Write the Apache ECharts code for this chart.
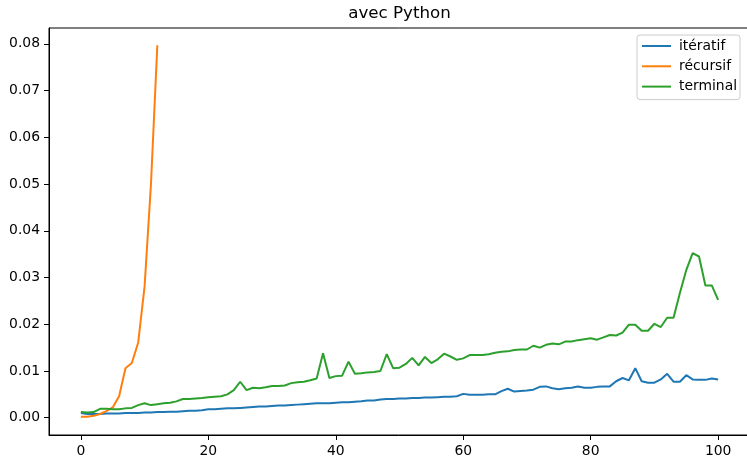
<!DOCTYPE html>
<html>
<head>
<meta charset="utf-8">
<script src="https://cdn.jsdelivr.net/npm/echarts@6/dist/echarts.min.js"></script>
<style>
  html, body { margin: 0; padding: 0; background: #fff; }
  #chart { width: 747px; height: 457px; }
</style>
</head>
<body>
<div id="chart"></div>
<script>
// durée de calcul (s) en fonction de n
const seriesNames = ['itératif', 'récursif', 'terminal'];

const iteratif = [
  0.0010, 0.0008, 0.0008, 0.0008, 0.0009, 0.0009, 0.0009, 0.0010, 0.0010, 0.0010,
  0.0011, 0.0011, 0.0012, 0.0012, 0.0013, 0.0013, 0.0014, 0.0015, 0.0015, 0.0016,
  0.0018, 0.0018, 0.0019, 0.0020, 0.0020, 0.0021, 0.0022, 0.0023, 0.0024, 0.0024,
  0.0025, 0.0026, 0.0026, 0.0027, 0.0028, 0.0029, 0.0030, 0.0031, 0.0031, 0.0031,
  0.0032, 0.0033, 0.0033, 0.0034, 0.0035, 0.0037, 0.0037, 0.0039, 0.0040, 0.0040,
  0.0041, 0.0041, 0.0042, 0.0042, 0.0043, 0.0043, 0.0044, 0.0045, 0.0045, 0.0046,
  0.0051, 0.0049, 0.0049, 0.0049, 0.0050, 0.0050, 0.0057, 0.0062, 0.0056, 0.0057,
  0.0058, 0.0060, 0.0066, 0.0067, 0.0063, 0.0061, 0.0063, 0.0064, 0.0067, 0.0064,
  0.0064, 0.0066, 0.0067, 0.0067, 0.0078, 0.0085, 0.0080, 0.0106, 0.0078, 0.0075,
  0.0075, 0.0082, 0.0094, 0.0077, 0.0077, 0.0091, 0.0082, 0.0081, 0.0081, 0.0084,
  0.0082
];

const recursif = [
  0.0002, 0.0002, 0.0004, 0.0008, 0.0014, 0.0022, 0.0046, 0.0106, 0.0117, 0.0161,
  0.0281, 0.0500, 0.0797
];

const terminal = [
  0.0012, 0.0011, 0.0012, 0.0019, 0.0019, 0.0018, 0.0018, 0.0020, 0.0021, 0.0027,
  0.0031, 0.0027, 0.0029, 0.0031, 0.0032, 0.0035, 0.0040, 0.0040, 0.0041, 0.0042,
  0.0044, 0.0045, 0.0046, 0.0050, 0.0059, 0.0077, 0.0059, 0.0064, 0.0063, 0.0065,
  0.0068, 0.0068, 0.0069, 0.0074, 0.0076, 0.0077, 0.0080, 0.0084, 0.0138, 0.0085,
  0.0089, 0.0090, 0.0120, 0.0094, 0.0095, 0.0097, 0.0098, 0.0100, 0.0136, 0.0106,
  0.0107, 0.0115, 0.0128, 0.0112, 0.0130, 0.0117, 0.0125, 0.0137, 0.0131, 0.0124,
  0.0127, 0.0134, 0.0134, 0.0134, 0.0136, 0.0139, 0.0141, 0.0142, 0.0145, 0.0146,
  0.0146, 0.0154, 0.0150, 0.0156, 0.0159, 0.0157, 0.0163, 0.0163, 0.0166, 0.0168,
  0.0170, 0.0167, 0.0172, 0.0177, 0.0176, 0.0182, 0.0199, 0.0199, 0.0186, 0.0186,
  0.0201, 0.0194, 0.0214, 0.0214, 0.0267, 0.0316, 0.0352, 0.0345, 0.0283, 0.0283,
  0.0252
];

// graduations
const xTicks = [0, 20, 40, 60, 80, 100];
const yTicks = [0, 0.01, 0.02, 0.03, 0.04, 0.05, 0.06, 0.07, 0.08];

const colors = ['#1f77b4', '#ff7f0e', '#2ca02c'];
const fontFamily = 'DejaVu Sans';

// n -> [n, valeur]
function toPairs(values) {
  return values.map(function (v, i) { return [i, v]; });
}

const chart = echarts.init(document.getElementById('chart'), null, { renderer: 'canvas' });

const axisCommon = {
  type: 'value',
  axisLine: { show: true, onZero: false, lineStyle: { color: '#000', width: 1 } },
  axisTick: { show: true, length: 5, lineStyle: { color: '#000', width: 1 } },
  splitLine: { show: false },
  axisLabel: { color: '#000', fontFamily: fontFamily, fontSize: 13.9 }
};

const option = {
  animation: false,
  backgroundColor: '#fff',
  color: colors,
  title: {
    text: 'avec Python',
    left: 399.5,
    top: 5,
    padding: 0,
    textAlign: 'center',
    textStyle: { color: '#000', fontFamily: fontFamily, fontSize: 16.7, fontWeight: 'normal' }
  },
  legend: {
    orient: 'vertical',
    left: 637,
    top: 35,
    padding: [3, 3, 5, 5],
    itemWidth: 29,
    itemHeight: 2,
    itemGap: 4.3,
    icon: 'rect',
    backgroundColor: 'rgba(255,255,255,0.8)',
    borderColor: '#cccccc',
    borderWidth: 1,
    borderRadius: 3,
    textStyle: { color: '#000', fontFamily: fontFamily, fontSize: 13.9, lineHeight: 16, padding: [0, 0, 0, 3] },
    data: seriesNames
  },
  // le cadre dépasse à droite comme sur l'image d'origine
  grid: {
    show: true,
    borderColor: '#000',
    borderWidth: 1,
    left: 49,
    top: 28,
    width: 701,
    height: 407,
    outerBoundsMode: 'none'
  },
  xAxis: Object.assign({}, axisCommon, {
    min: -5,
    max: 105,
    axisTick: Object.assign({}, axisCommon.axisTick, { customValues: xTicks }),
    axisLabel: Object.assign({}, axisCommon.axisLabel, { customValues: xTicks, margin: 9 })
  }),
  yAxis: Object.assign({}, axisCommon, {
    min: -0.0037,
    max: 0.0834,
    axisTick: Object.assign({}, axisCommon.axisTick, { customValues: yTicks }),
    axisLabel: Object.assign({}, axisCommon.axisLabel, {
      customValues: yTicks,
      margin: 9,
      formatter: function (value) { return value.toFixed(2); }
    })
  }),
  series: [
    { name: seriesNames[0], type: 'line', data: toPairs(iteratif) },
    { name: seriesNames[1], type: 'line', data: toPairs(recursif) },
    { name: seriesNames[2], type: 'line', data: toPairs(terminal) }
  ].map(function (s, i) {
    return Object.assign(s, {
      showSymbol: false,
      symbol: 'none',
      lineStyle: { width: 2, color: colors[i] },
      itemStyle: { color: colors[i] }
    });
  })
};

chart.setOption(option);
</script>
</body>
</html>
